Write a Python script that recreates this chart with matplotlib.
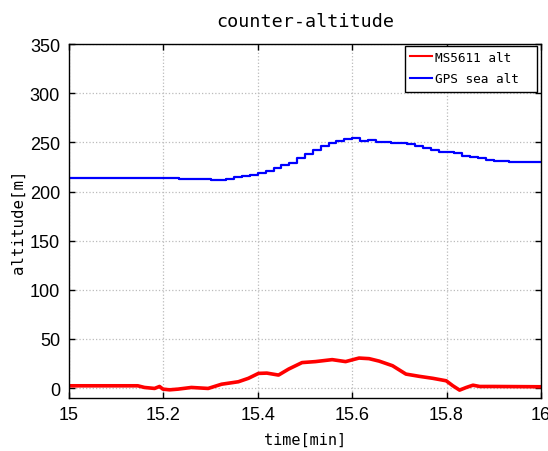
import matplotlib
matplotlib.use("Agg")
import matplotlib.pyplot as plt
from matplotlib.patches import Rectangle

plt.rcParams['font.family'] = ['DejaVu Sans Mono']

# MS5611 barometric altitude (time [min], altitude [m])
ms_t = [15.000, 15.1457, 15.1599, 15.1812, 15.1918, 15.1989, 15.2131, 15.2309,
        15.2593, 15.2948, 15.3233, 15.3588, 15.3801, 15.4014, 15.4192, 15.4440,
        15.4654, 15.4938, 15.5222, 15.5577, 15.5861, 15.6146, 15.6359, 15.6572,
        15.6856, 15.7140, 15.7425, 15.7709, 15.7993, 15.8135, 15.8277, 15.8419,
        15.8561, 15.8703, 15.8988, 16.000]
ms_alt = [2.4, 2.4, 0.7, -0.3, 1.7, -1.0, -1.7, -1.0,
          0.7, -0.3, 4.0, 6.5, 10.0, 15.0, 15.3, 13.3,
          19.4, 26.0, 27.0, 29.0, 27.0, 30.6, 30.0, 27.5,
          22.8, 14.3, 12.0, 10.0, 7.5, 2.4, -2.0, 0.7,
          3.0, 1.7, 1.7, 1.4]

# GPS sea-level altitude, one sample per second
gps_sec = list(range(61))
gps_alt = [213.5, 213.5, 213.5, 213.5, 213.5, 213.5, 213.5, 213.5, 213.5, 213.5,
           213.5, 213.5, 213.5, 213.3, 213.0, 212.8, 212.8, 212.5, 212.0, 212.0,
           213.0, 214.5, 215.5, 216.5, 218.5, 221.0, 223.5, 226.5, 229.0, 234.5,
           238.5, 242.0, 246.5, 249.3, 251.7, 253.0, 254.8, 251.0, 252.4, 250.3,
           250.0, 249.5, 249.3, 248.0, 246.3, 244.5, 242.0, 240.5, 240.0, 239.5,
           236.5, 235.5, 234.5, 232.5, 231.5, 231.0, 230.0, 229.5, 229.5, 229.5,
           229.8]
gps_t = [15 + s / 60 for s in gps_sec]

x_ticks = [15, 15.2, 15.4, 15.6, 15.8, 16]
x_labels = ['15', '15.2', '15.4', '15.6', '15.8', '16']
y_ticks = [0, 50, 100, 150, 200, 250, 300, 350]

fig = plt.figure(figsize=(5.48, 4.52), dpi=100)
ax = fig.add_axes([0.126, 0.1173, 0.861, 0.7831])

ax.plot(ms_t, ms_alt, color='#ff0000', lw=2.6, label='MS5611 alt')
ax.step(gps_t, gps_alt, where='post', color='#0000ff', lw=1.6, label='GPS sea alt')

ax.set_xlim(15, 16)
ax.set_ylim(-10, 350)
ax.set_xticks(x_ticks)
ax.set_xticklabels(x_labels)
ax.set_yticks(y_ticks)
ax.tick_params(direction='in', top=True, right=True, length=4, width=1.0)
ax.tick_params(axis='y', pad=6.5)
ax.tick_params(axis='x', pad=6)
for lab in ax.get_xticklabels() + ax.get_yticklabels():
    lab.set_fontfamily(['Liberation Sans', 'DejaVu Sans'])
    lab.set_fontsize(13)
ax.grid(True, linestyle=':', color='#bbbbbb', lw=0.9)
for s in ax.spines.values():
    s.set_linewidth(1.0)
    s.set_color('black')

ax.set_title('counter-altitude', fontsize=13.2, pad=13)
ax.set_xlabel('time[min]', fontsize=11, labelpad=6)
ax.set_ylabel('altitude[m]', fontsize=11.3, labelpad=3)

# legend frame (MATLAB style box)
ax.add_patch(Rectangle((405 / 548, 1 - 93 / 452), 132 / 548, 46 / 452,
                       transform=fig.transFigure, facecolor='white',
                       edgecolor='black', lw=1.0, zorder=4, clip_on=False))
leg = ax.legend(loc='upper left', bbox_to_anchor=(410 / 548, 1 - 51.5 / 452),
                bbox_transform=fig.transFigure, fontsize=9.2,
                handlelength=1.72, handletextpad=0.23, borderpad=0,
                labelspacing=0.7, borderaxespad=0, frameon=False)
leg.set_zorder(5)
for l in leg.get_lines():
    l.set_linewidth(1.5)

fig.savefig('out.png', dpi=100)
